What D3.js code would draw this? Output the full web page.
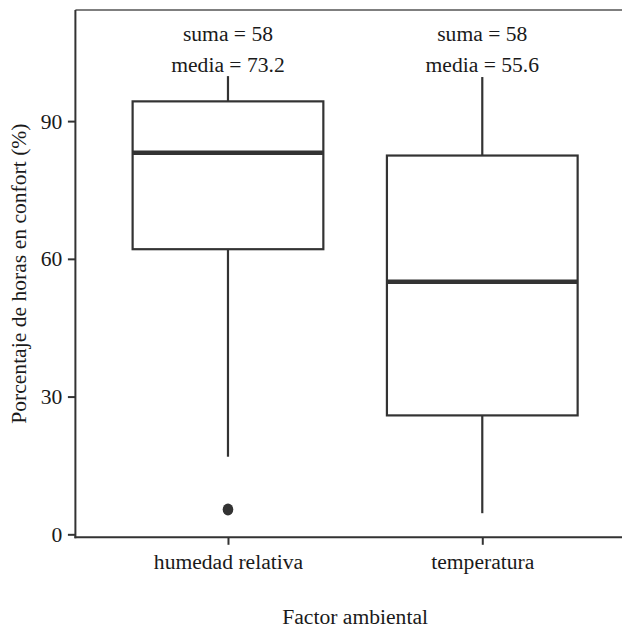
<!DOCTYPE html>
<html><head><meta charset="utf-8">
<script src="https://cdn.jsdelivr.net/npm/d3@7"></script>
<style>body{margin:0;background:#fff}svg{display:block}</style>
</head><body><div id="chart"></div>
<script>
const categories = ["humedad relativa", "temperatura"];
const whiskerLow = [16.9, 4.6];
const q1 = [62.1, 25.9];
const median = [83.1, 55.0];
const q3 = [94.3, 82.5];
const whiskerHigh = [99.8, 99.6];
const outliers = [[5.4], []];
const sumaLabels = ["suma = 58", "suma = 58"];
const mediaLabels = ["media = 73.2", "media = 55.6"];
const yTicks = [0, 30, 60, 90];

(function () {
const W = 622, H = 629;
const mLeft = 75.4, mTop = 10, mBottom = 537.3;
const step = 254.3;
const FONT = "Liberation Serif";
const FS = "21.6px";
const TXT = "#1a1a1a";
const svg = d3.select("#chart").append("svg").attr("width", W).attr("height", H);

const x = d3.scalePoint().domain(categories).range([mLeft + 0.6*step, mLeft + 1.6*step]);
const y = d3.scaleLinear().domain([-0.65, 114.2]).range([mBottom, mTop]);
const bw = 0.75 * step;
const ink = "#333333";

svg.append("line").attr("x1", mLeft).attr("x2", W).attr("y1", mTop).attr("y2", mTop)
  .attr("stroke", "#555").attr("stroke-width", 1.6);

const g = svg.append("g");
categories.forEach((c, i) => {
  const cx = x(c);
  g.append("line").attr("x1", cx).attr("x2", cx).attr("y1", y(q3[i])).attr("y2", y(whiskerHigh[i]))
    .attr("stroke", ink).attr("stroke-width", 2.2);
  g.append("line").attr("x1", cx).attr("x2", cx).attr("y1", y(q1[i])).attr("y2", y(whiskerLow[i]))
    .attr("stroke", ink).attr("stroke-width", 2.2);
  g.append("rect").attr("x", cx - bw/2).attr("width", bw).attr("y", y(q3[i])).attr("height", y(q1[i]) - y(q3[i]))
    .attr("fill", "#fff").attr("stroke", ink).attr("stroke-width", 2.2);
  g.append("line").attr("x1", cx - bw/2).attr("x2", cx + bw/2).attr("y1", y(median[i])).attr("y2", y(median[i]))
    .attr("stroke", ink).attr("stroke-width", 4.4);
  outliers[i].forEach(v => {
    g.append("ellipse").attr("cx", cx).attr("cy", y(v)).attr("rx", 5.3).attr("ry", 6).attr("fill", ink);
  });
  g.append("text").attr("x", cx).attr("y", 41).attr("text-anchor", "middle")
    .style("font-family", FONT).style("font-size", FS).style("fill", TXT).text(sumaLabels[i]);
  g.append("text").attr("x", cx).attr("y", 72).attr("text-anchor", "middle")
    .style("font-family", FONT).style("font-size", FS).style("fill", TXT).text(mediaLabels[i]);
});

const ya = svg.append("g").attr("transform", `translate(${mLeft},0)`)
  .call(d3.axisLeft(y).tickValues(yTicks).tickSize(7.5).tickPadding(5.5));
ya.select(".domain").remove();
ya.append("line").attr("x1", 0).attr("x2", 0).attr("y1", mTop).attr("y2", mBottom + 1).attr("stroke", ink).attr("stroke-width", 2);
ya.selectAll(".tick line").attr("stroke", ink).attr("stroke-width", 2);
ya.selectAll(".tick text").style("font-family", FONT).style("font-size", FS).style("fill", TXT);

const xa = svg.append("g").attr("transform", `translate(0,${mBottom})`)
  .call(d3.axisBottom(x).tickSize(7.5).tickPadding(9));
xa.select(".domain").remove();
xa.append("line").attr("x1", mLeft - 1).attr("x2", W).attr("y1", 0).attr("y2", 0).attr("stroke", ink).attr("stroke-width", 2);
xa.selectAll(".tick line").attr("stroke", ink).attr("stroke-width", 2);
xa.selectAll(".tick text").style("font-family", FONT).style("font-size", FS).style("fill", TXT);

svg.append("text").attr("x", (x(categories[0]) + x(categories[1]))/2).attr("y", 624)
  .attr("text-anchor", "middle").style("font-family", FONT).style("font-size", FS).style("fill", TXT).text("Factor ambiental");
svg.append("text").attr("transform", `translate(26,${(mTop + mBottom)/2}) rotate(-90)`)
  .attr("text-anchor", "middle").style("font-family", FONT).style("font-size", FS).style("fill", TXT).text("Porcentaje de horas en confort (%)");
})();
</script></body></html>
